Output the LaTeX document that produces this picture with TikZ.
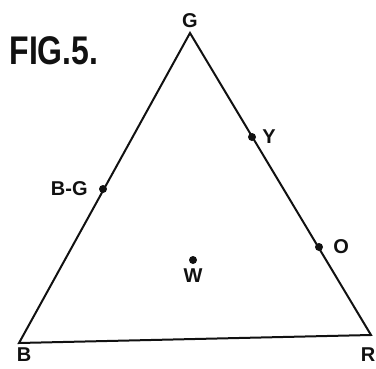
\documentclass[tikz,border=0pt]{standalone}
\usepackage{fontspec}
\setmainfont{Liberation Sans}
\usetikzlibrary{positioning}
\definecolor{FigInk}{HTML}{111111}

\begin{document}
\begin{tikzpicture}[x=1pt, y=-1pt, node distance=4pt,
    font=\fontsize{20}{20}\selectfont\bfseries,
    dot/.style={circle, fill=FigInk, inner sep=0pt, minimum size=8pt},
    lbl/.style={text=FigInk, inner sep=1pt}]
  \useasboundingbox (0,0) rectangle (376,368);
  % corners of the colour triangle
  \coordinate (g) at (190,33);
  \coordinate (b) at (19,343);
  \coordinate (r) at (371,335);
  \draw[FigInk, line width=2pt, line join=miter] (g) -- (b) -- (r) -- cycle;
  \node[lbl, above=4pt of g] (glabel) {G};
  \node[lbl, below=4pt of b, xshift=5pt] (blabel) {B};
  \node[lbl, below=12pt of r, xshift=-3pt] (rlabel) {R};
  \node[lbl] (fig) at (54,51)
    {\scalebox{0.8}[1]{\fontsize{40}{40}\selectfont\bfseries FIG.5.}};
  % points on and in the triangle
  \node[dot] (ydot) at (252,137) {};
  \node[dot] (odot) at (319,247) {};
  \node[dot] (bgdot) at (103,189) {};
  \node[dot] (wdot) at (193,260) {};
  \node[lbl, right=5pt of ydot] (ylabel) {Y};
  \node[lbl, right=9pt of odot] (olabel) {O};
  \node[lbl, left=10pt of bgdot] (bglabel) {B-G};
  \node[lbl, below=3pt of wdot] (wlabel) {W};
\end{tikzpicture}
\end{document}
